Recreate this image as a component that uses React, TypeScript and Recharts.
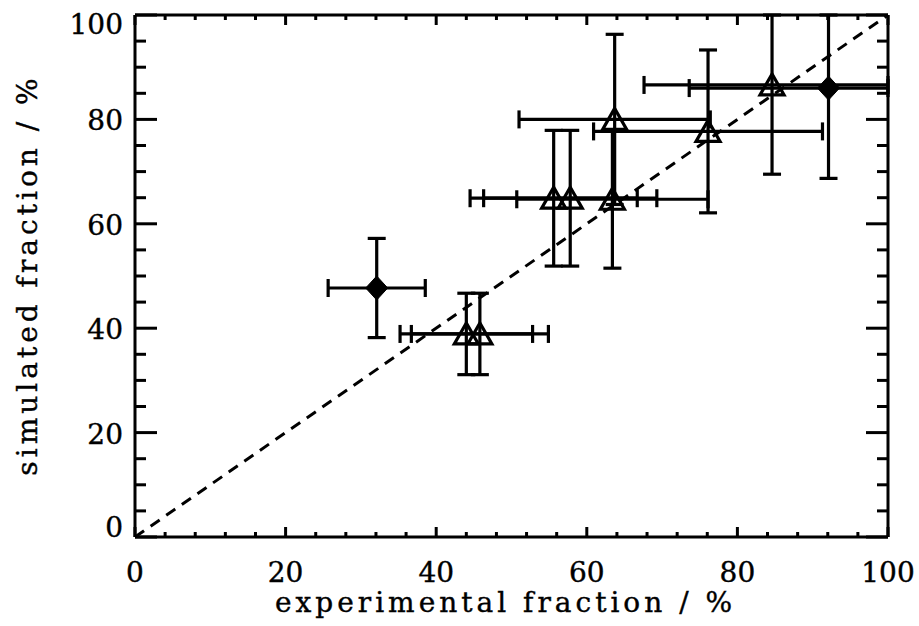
import React from "react";
import {
  ScatterChart,
  Scatter,
  XAxis,
  YAxis,
  ErrorBar,
  ReferenceLine,
} from "recharts";

// Open triangles (x, y, x-error, y-error)
const triX = [44.0, 45.8, 55.6, 57.8, 63.4, 63.7, 76.1, 84.6];
const triY = [38.9, 38.9, 64.9, 64.9, 64.7, 80.0, 77.7, 86.6];
const triEx = [8.8, 9.1, 11.1, 11.5, 12.7, 12.7, 15.2, 17.0];
const triEy = [7.8, 7.8, 13.0, 13.0, 13.2, 16.3, 15.6, 17.1];

// Filled diamonds
const diaX = [32.1, 92.1];
const diaY = [47.7, 86.0];
const diaEx = [6.45, 18.5];
const diaEy = [9.5, 17.3];

const xTicks = [0, 4, 8, 12, 16, 20, 24, 28, 32, 36, 40, 44, 48, 52, 56, 60, 64, 68, 72, 76, 80, 84, 88, 92, 96, 100];
const yTicks = [0, 5, 10, 15, 20, 25, 30, 35, 40, 45, 50, 55, 60, 65, 70, 75, 80, 85, 90, 95, 100];
const majorTicks = [0, 20, 40, 60, 80, 100];

const xTitle = "experimental fraction / %";
const yTitle = "simulated fraction / %";

const AX_MIN = 0;
const AX_MAX = 100;

// error bars are cut at the plot frame, like in the original
const clip = (c: number, e: number): [number, number] => [
  Math.min(e, c - AX_MIN),
  Math.min(e, AX_MAX - c),
];

const triData = triX.map((x, i) => ({
  x,
  y: triY[i],
  ex: clip(x, triEx[i]),
  ey: clip(triY[i], triEy[i]),
}));
const diaData = diaX.map((x, i) => ({
  x,
  y: diaY[i],
  ex: clip(x, diaEx[i]),
  ey: clip(diaY[i], diaEy[i]),
}));

const FONT = "'DejaVu Serif', serif";
const FS = 28;
const TXT = { fontFamily: FONT, fontSize: FS, fill: "#000", stroke: "#000", strokeWidth: 0.4 };

const isMajor = (v: number) => majorTicks.includes(v);

const BottomTick = (p: any) => {
  const { x, y, payload } = p;
  const m = isMajor(payload.value);
  return (
    <g>
      <line x1={x} x2={x} y1={y} y2={y - (m ? 10 : 5)} stroke="#000" strokeWidth={3} />
      {m && (
        <text x={x} y={y + 45} textAnchor="middle" {...TXT}>
          {payload.value}
        </text>
      )}
    </g>
  );
};

const TopTick = (p: any) => {
  const { x, y, payload } = p;
  const m = isMajor(payload.value);
  return <line x1={x} x2={x} y1={y} y2={y + (m ? 10 : 5)} stroke="#000" strokeWidth={3} />;
};

const LeftTick = (p: any) => {
  const { x, y, payload } = p;
  const v = payload.value;
  const m = isMajor(v);
  const by = v === 0 ? y : v === 100 ? y + 19 : y + 11;
  return (
    <g>
      <line x1={x} x2={x + (m ? 22 : 11)} y1={y} y2={y} stroke="#000" strokeWidth={3} />
      {m && (
        <text x={x - 12} y={by} textAnchor="end" {...TXT}>
          {v}
        </text>
      )}
    </g>
  );
};

const RightTick = (p: any) => {
  const { x, y, payload } = p;
  const m = isMajor(payload.value);
  return <line x1={x} x2={x - (m ? 22 : 11)} y1={y} y2={y} stroke="#000" strokeWidth={3} />;
};

const Triangle = (p: any) => {
  const { cx, cy } = p;
  if (cx == null || cy == null) return null;
  const pts = `${cx},${cy - 11} ${cx - 12},${cy + 10} ${cx + 12},${cy + 10}`;
  return <polygon points={pts} fill="none" stroke="#000" strokeWidth={3.2} strokeLinejoin="miter" />;
};

const Diamond = (p: any) => {
  const { cx, cy } = p;
  if (cx == null || cy == null) return null;
  const pts = `${cx},${cy - 12} ${cx + 11},${cy} ${cx},${cy + 12} ${cx - 11},${cy}`;
  return <polygon points={pts} fill="#000" stroke="#000" strokeWidth={1} />;
};

const XTitle = (p: any) => {
  const vb = p.viewBox || { x: 135, y: 537, width: 753, height: 89 };
  return (
    <text x={vb.x + vb.width / 2 - 6} y={612} textAnchor="middle" letterSpacing={4} {...TXT}>
      {xTitle}
    </text>
  );
};

const YTitle = () => {
  const cx = 37;
  const cy = 275;
  return (
    <text
      x={cx}
      y={cy}
      transform={`rotate(-90, ${cx}, ${cy})`}
      textAnchor="middle"
      letterSpacing={4}
      {...TXT}
    >
      {yTitle}
    </text>
  );
};

const EB = { stroke: "#000", strokeWidth: 3.2, width: 9 };

export default function App() {
  return (
    <div style={{ width: 919, height: 626, background: "#fff" }}>
      <style>{"body{margin:0;background:#fff}"}</style>
      <ScatterChart width={919} height={626} margin={{ top: 0, right: 0, bottom: 0, left: 0 }}>
        <XAxis
          xAxisId={0}
          type="number"
          dataKey="x"
          domain={[AX_MIN, AX_MAX]}
          allowDataOverflow
          ticks={xTicks}
          interval={0}
          height={89}
          tickSize={0}
          tickMargin={0}
          tickLine={false}
          axisLine={{ stroke: "#000", strokeWidth: 3 }}
          tick={<BottomTick />}
          label={{ content: (props: any) => <XTitle {...props} /> }}
        />
        <XAxis
          xAxisId="top"
          orientation="top"
          type="number"
          dataKey="x"
          domain={[AX_MIN, AX_MAX]}
          allowDataOverflow
          ticks={xTicks}
          interval={0}
          height={15}
          tickSize={0}
          tickMargin={0}
          tickLine={false}
          axisLine={{ stroke: "#000", strokeWidth: 3 }}
          tick={<TopTick />}
        />
        <YAxis
          yAxisId={0}
          type="number"
          dataKey="y"
          domain={[AX_MIN, AX_MAX]}
          allowDataOverflow
          ticks={yTicks}
          interval={0}
          width={135}
          tickSize={0}
          tickMargin={0}
          tickLine={false}
          axisLine={{ stroke: "#000", strokeWidth: 3 }}
          tick={<LeftTick />}
          label={{ content: () => <YTitle /> }}
        />
        <YAxis
          yAxisId="right"
          orientation="right"
          type="number"
          dataKey="y"
          domain={[AX_MIN, AX_MAX]}
          allowDataOverflow
          ticks={yTicks}
          interval={0}
          width={31}
          tickSize={0}
          tickMargin={0}
          tickLine={false}
          axisLine={{ stroke: "#000", strokeWidth: 3 }}
          tick={<RightTick />}
        />
        <ReferenceLine
          segment={[
            { x: AX_MIN, y: AX_MIN },
            { x: AX_MAX, y: AX_MAX },
          ]}
          stroke="#000"
          strokeWidth={3}
          strokeDasharray="11 8"
          ifOverflow="visible"
        />
        <Scatter data={triData} shape={<Triangle />} isAnimationActive={false}>
          <ErrorBar dataKey="ex" direction="x" {...EB} />
          <ErrorBar dataKey="ey" direction="y" {...EB} />
        </Scatter>
        <Scatter data={diaData} shape={<Diamond />} isAnimationActive={false}>
          <ErrorBar dataKey="ex" direction="x" {...EB} />
          <ErrorBar dataKey="ey" direction="y" {...EB} />
        </Scatter>
      </ScatterChart>
    </div>
  );
}
